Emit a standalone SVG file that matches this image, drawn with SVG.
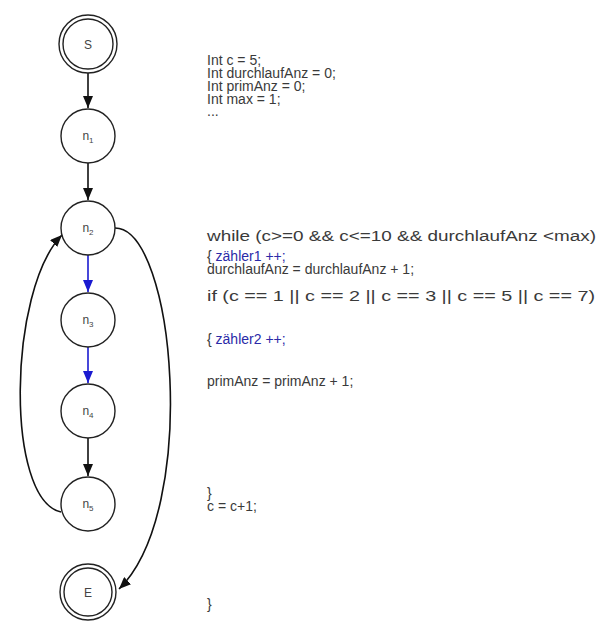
<svg xmlns="http://www.w3.org/2000/svg" width="598" height="621" viewBox="0 0 598 621">
<defs>
<style>
.node circle{fill:#fff;stroke:#222;stroke-width:1.4}
.lbl{font-family:"Liberation Sans",Arial,sans-serif;font-size:12px;fill:#444;text-anchor:middle}
.code{font-family:"Liberation Sans",Arial,sans-serif;font-size:14px;fill:#3a3a3a}
.blue{fill:#2a2aa8}
.edge{fill:none;stroke:#111;stroke-width:1.6}
.edge.b{stroke:#1a1ad0}
</style>
<marker id="ah" viewBox="0 0 12 10" refX="12" refY="5" markerWidth="12" markerHeight="10" markerUnits="userSpaceOnUse" orient="auto">
<path d="M0,0 L12,5 L0,10 Z" fill="#111"/>
</marker>
<marker id="ahb" viewBox="0 0 12 10" refX="12" refY="5" markerWidth="12" markerHeight="10" markerUnits="userSpaceOnUse" orient="auto">
<path d="M0,0 L12,5 L0,10 Z" fill="#1a1ad0"/>
</marker>
</defs>
<rect width="598" height="621" fill="#fff"/>
<g id="connectors">
<line class="edge" x1="88" y1="73" x2="88" y2="108" marker-end="url(#ah)"/>
<line class="edge" x1="88" y1="163" x2="88" y2="200" marker-end="url(#ah)"/>
<line class="edge b" x1="88" y1="255" x2="88" y2="292" marker-end="url(#ahb)"/>
<line class="edge b" x1="88" y1="347" x2="88" y2="383" marker-end="url(#ahb)"/>
<line class="edge" x1="88" y1="438" x2="88" y2="476" marker-end="url(#ah)"/>
<path class="edge" d="M61,512 C5,500 8,290 62,235" marker-end="url(#ah)"/>
<path class="edge" d="M115,228 C175,228 200,510 119,589" marker-end="url(#ah)"/>
</g>
<g id="S" class="node"><circle cx="88" cy="44" r="29"/><circle cx="88" cy="44" r="25"/><text class="lbl" x="88" y="49" font-size="14">S</text></g>
<g id="n1" class="node"><circle cx="88" cy="136" r="27"/><text class="lbl" x="88" y="140">n<tspan font-size="8" dy="3">1</tspan></text></g>
<g id="n2" class="node"><circle cx="88" cy="228" r="27"/><text class="lbl" x="88" y="232">n<tspan font-size="8" dy="3">2</tspan></text></g>
<g id="n3" class="node"><circle cx="88" cy="320" r="27"/><text class="lbl" x="88" y="324">n<tspan font-size="8" dy="3">3</tspan></text></g>
<g id="n4" class="node"><circle cx="88" cy="411" r="27"/><text class="lbl" x="88" y="415">n<tspan font-size="8" dy="3">4</tspan></text></g>
<g id="n5" class="node"><circle cx="88" cy="504" r="27"/><text class="lbl" x="88" y="508">n<tspan font-size="8" dy="3">5</tspan></text></g>
<g id="E" class="node"><circle cx="88" cy="592" r="28"/><text class="lbl" x="88" y="597" font-size="14">E</text><circle cx="88" cy="592" r="24" style="fill:none"/></g>
<g id="code">
<text class="code" x="207" y="65">Int c = 5;</text>
<text class="code" x="207" y="78">Int durchlaufAnz = 0;</text>
<text class="code" x="207" y="91">Int primAnz = 0;</text>
<text class="code" x="207" y="104">Int max = 1;</text>
<text class="code" x="207" y="116">...</text>
<text class="code" x="207" y="241" textLength="389" lengthAdjust="spacingAndGlyphs">while (c&gt;=0 &amp;&amp; c&lt;=10 &amp;&amp; durchlaufAnz &lt;max)</text>
<text class="code" x="207" y="261">{ <tspan class="blue">zähler1 ++;</tspan></text>
<text class="code" x="207" y="274">durchlaufAnz = durchlaufAnz + 1;</text>
<text class="code" x="207" y="301" textLength="388" lengthAdjust="spacingAndGlyphs">if (c == 1 || c == 2 || c == 3 || c == 5 || c == 7)</text>
<text class="code" x="207" y="344">{ <tspan class="blue">zähler2 ++;</tspan></text>
<text class="code" x="207" y="386">primAnz = primAnz + 1;</text>
<text class="code" x="207" y="498">}</text>
<text class="code" x="207" y="511">c = c+1;</text>
<text class="code" x="207" y="609">}</text>
</g>
</svg>
